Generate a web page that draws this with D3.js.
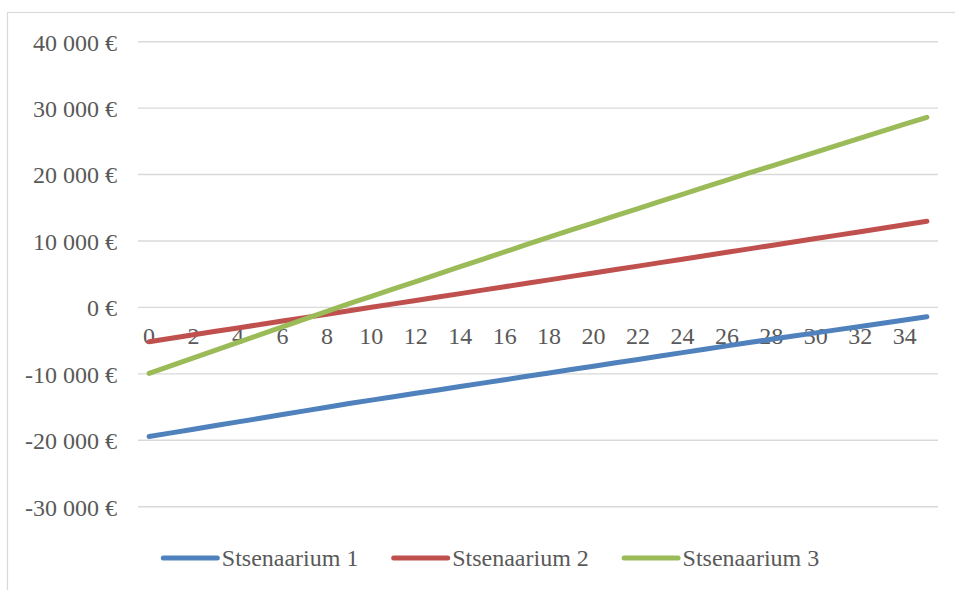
<!DOCTYPE html>
<html>
<head>
<meta charset="utf-8">
<script src="https://cdn.jsdelivr.net/npm/d3@7"></script>
<style>
  html, body { margin: 0; padding: 0; background: #fff; }
  svg { display: block; }
</style>
</head>
<body>
<svg id="chart" width="955" height="590"></svg>
<script>
// Years 0..35
const years = d3.range(0, 36);

// Cumulative result per scenario (EUR)
const stsenaarium1 = [
  -19440, -18890, -18340, -17785, -17230, -16680, -16130, -15575, -15025, -14470,
  -13960, -13450, -12935, -12425, -11910, -11400, -10890, -10375, -9865, -9355,
  -8845, -8335, -7830, -7320, -6810, -6300, -5790, -5285, -4800, -4315,
  -3830, -3345, -2860, -2375, -1890, -1405
];
const stsenaarium2 = [
  -5160, -4640, -4120, -3600, -3085, -2570, -2050, -1535, -1020, -500,
  15, 530, 1050, 1565, 2080, 2600, 3115, 3635, 4150, 4670,
  5185, 5700, 6220, 6740, 7255, 7775, 8290, 8810, 9330, 9845,
  10365, 10880, 11400, 11920, 12440, 12960
];
const stsenaarium3 = [
  -9930, -8765, -7600, -6435, -5270, -4105, -2940, -1775, -610, 555,
  1670, 2785, 3900, 5015, 6130, 7245, 8360, 9475, 10590, 11660,
  12735, 13805, 14880, 15950, 17020, 18095, 19165, 20240, 21285, 22335,
  23380, 24430, 25480, 26525, 27575, 28620
];

const seriesNames = ["Stsenaarium 1", "Stsenaarium 2", "Stsenaarium 3"];
const seriesColors = ["#4f81bd", "#c0504d", "#9bbb59"];
const seriesValues = [stsenaarium1, stsenaarium2, stsenaarium3];

// Axis ticks
const yTickValues = [-30000, -20000, -10000, 0, 10000, 20000, 30000, 40000];
const xTickLabels = years.filter(d => d % 2 === 0);

const FONT = '"Liberation Serif"';
const TEXT_COLOR = "#595959";

const svg = d3.select("#chart");
const W = 955, H = 590;
const plot = { left: 138, right: 938, top: 41.7, bottom: 506.7 };

svg.append("rect").attr("width", W).attr("height", H).attr("fill", "#fff");

// Outer chart frame (left and top edges visible)
svg.append("rect")
  .attr("x", 7.5).attr("y", 12.5)
  .attr("width", 1200).attr("height", 1200)
  .attr("fill", "none").attr("stroke", "#d9d9d9").attr("stroke-width", 1.2);

const x = d3.scaleBand().domain(years).range([plot.left, plot.right]).padding(0);
const y = d3.scaleLinear().domain([-30000, 40000]).range([plot.bottom, plot.top]);
const cx = d => x(d) + x.bandwidth() / 2;

const eur = d3.formatLocale({
  decimal: ",", thousands: " ", grouping: [3], currency: ["", " €"], minus: "-"
}).format("$,.0f");

// Horizontal gridlines
svg.append("g").selectAll("line").data(yTickValues).join("line")
  .attr("x1", plot.left).attr("x2", plot.right)
  .attr("y1", d => y(d)).attr("y2", d => y(d))
  .attr("stroke", "#d9d9d9").attr("stroke-width", 1.4);

function styleAxis(g) {
  g.attr("font-family", null).attr("font-size", null);
  g.select(".domain").remove();
  g.selectAll("text")
    .style("font-family", FONT)
    .style("font-size", "24px")
    .style("fill", TEXT_COLOR);
}

// Y axis labels
const yAxis = svg.append("g")
  .attr("transform", `translate(${plot.left},0)`)
  .call(d3.axisLeft(y).tickValues(yTickValues).tickSize(0).tickPadding(21).tickFormat(eur))
  .call(styleAxis);
yAxis.selectAll("text").attr("dy", "0.35em");

// X axis labels sit just below the zero line
svg.append("g")
  .attr("transform", `translate(0,${y(0)})`)
  .call(d3.axisBottom(x).tickValues(xTickLabels).tickSize(0).tickPadding(19.5))
  .call(styleAxis);

// Scenario lines
const line = d3.line().x((d, i) => cx(years[i])).y(d => y(d));
svg.append("g").selectAll("path").data(seriesValues).join("path")
  .attr("d", d => line(d))
  .attr("fill", "none")
  .attr("stroke", (d, i) => seriesColors[i])
  .attr("stroke-width", 5)
  .attr("stroke-linecap", "round")
  .attr("stroke-linejoin", "round");

// Legend: evenly spaced entries
const legendStart = 163.3, legendStep = 230.4, legendY = 558;
const items = svg.append("g").selectAll("g").data(seriesNames).join("g")
  .attr("transform", (d, i) => `translate(${legendStart + i * legendStep},${legendY})`);
items.append("line")
  .attr("x1", 0).attr("x2", 54)
  .attr("stroke", (d, i) => seriesColors[i]).attr("stroke-width", 5)
  .attr("stroke-linecap", "round");
items.append("text")
  .attr("x", 58.5).attr("y", 8)
  .style("font-family", FONT)
  .style("font-size", "24px")
  .style("fill", TEXT_COLOR)
  .text(d => d);
</script>
</body>
</html>
